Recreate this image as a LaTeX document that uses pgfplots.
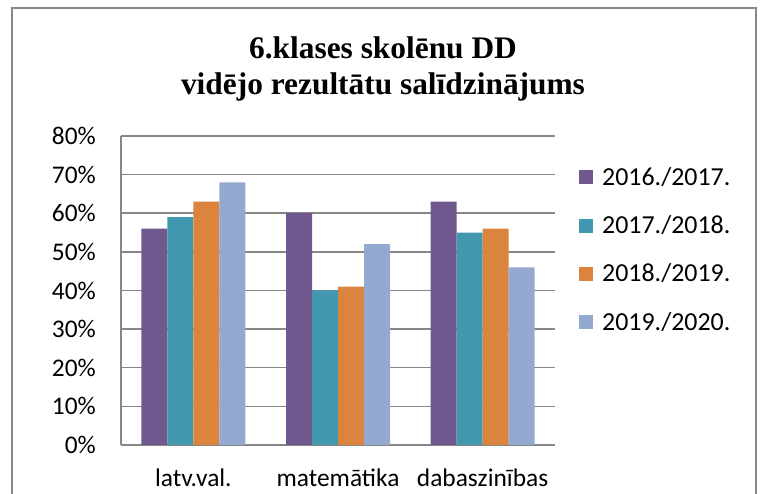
\documentclass[border=0pt]{standalone}
\usepackage{pgfplots}
\pgfplotsset{compat=1.18}
\usepackage{fontspec}
\setmainfont{Carlito}
\newfontfamily\titlefont{Liberation Serif}
\definecolor{c1}{HTML}{71588F}
\definecolor{c2}{HTML}{4198AF}
\definecolor{c3}{HTML}{DB843D}
\definecolor{c4}{HTML}{93A9CF}
\definecolor{gridc}{HTML}{878787}
\begin{document}
\begin{tikzpicture}[x=1bp,y=1bp]
\useasboundingbox (0,0) rectangle (761,494);
\draw[gridc, line width=2bp] (12,-20) rectangle (756,486);
\node[font=\titlefont\bfseries\fontsize{31.5}{36}\selectfont, anchor=base, inner sep=0pt] at (383,435) {6.klases skolēnu DD};
\node[font=\titlefont\bfseries\fontsize{31.5}{36}\selectfont, anchor=base, inner sep=0pt] at (383,399) {vidējo rezultātu salīdzinājums};
\begin{axis}[
  at={(121bp,49bp)}, anchor=south west,
  scale only axis, width=434bp, height=309bp,
  ymin=0, ymax=80, ytick={0,10,...,80},
  yticklabel={\pgfmathprintnumber{\tick}\%},
  /pgf/number format/assume math mode=true,
  xmin=-0.5, xmax=2.5, xtick={0,1,2},
  xticklabels={latv.val., matemātika, dabaszinības},
  ybar=0pt, bar width=26bp,
  axis lines*=left,
  ymajorgrids, grid style={gridc, line width=1.5bp},
  axis line style={gridc, line width=1.5bp},
  major tick length=0pt,
  tick label style={font=\fontsize{25.5}{30}\selectfont},
  yticklabel style={anchor=east, inner sep=0pt, xshift=-25bp},
  xticklabel style={anchor=base, inner sep=0pt, yshift=-42bp},
  legend style={draw=none, fill=none, at={(1.0553,0.627)}, anchor=west, inner sep=0pt,
    font=\fontsize{26}{30}\selectfont, row sep=29.3bp,
    nodes={inner sep=0pt, text height=16bp, text depth=3bp},
    /tikz/every odd column/.append style={column sep=9bp}},
  legend cell align=left,
  legend image code/.code={\fill[#1] (0bp,-5.5bp) rectangle (14bp,8.5bp);},
]
\addplot[fill=c1, draw=none] coordinates {(0,56) (1,60) (2,63)};
\addplot[fill=c2, draw=none] coordinates {(0,59) (1,40) (2,55)};
\addplot[fill=c3, draw=none] coordinates {(0,63) (1,41) (2,56)};
\addplot[fill=c4, draw=none] coordinates {(0,68) (1,52) (2,46)};
\legend{2016./2017., 2017./2018., 2018./2019., 2019./2020.}
\end{axis}
\end{tikzpicture}
\end{document}
